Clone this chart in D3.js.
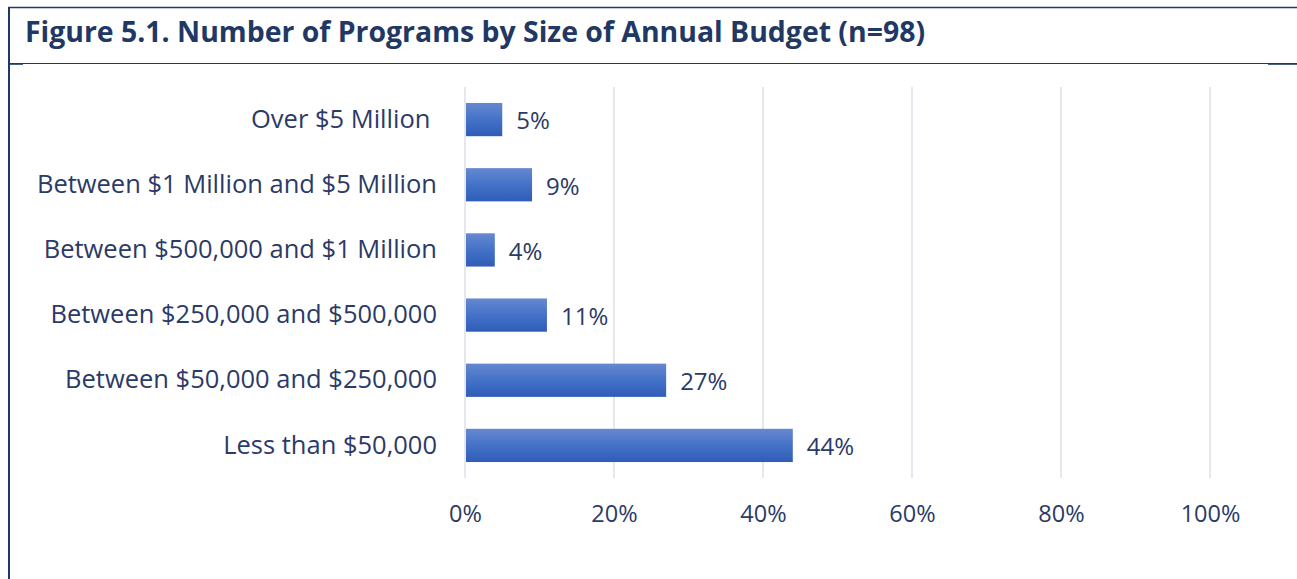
<!DOCTYPE html>
<html>
<head>
<meta charset="utf-8">
<script src="https://cdn.jsdelivr.net/npm/d3@7"></script>
<style>
    body { margin: 0; background: #fff; }
    svg { display: block; }
    text { white-space: pre; }
</style>
</head>
<body>
<svg id="chart" width="1297" height="579"></svg>
<script>
// categories top to bottom, values in percent
var categories = [
    "Over $5 Million ",
    "Between $1 Million and $5 Million",
    "Between $500,000 and $1 Million",
    "Between $250,000 and $500,000",
    "Between $50,000 and $250,000",
    "Less than $50,000"
]
var values = [5, 9, 4, 11, 27, 44]
var tickValues = [0, 20, 40, 60, 80, 100]
var title = "Figure 5.1. Number of Programs by Size of Annual Budget (n=98)"

var navy = "#1f3864"
var textColor = "#2b3a67"
var font = "'Open Sans', 'Noto Sans', sans-serif"

var svg = d3.select("#chart")

// frame
svg.append("line").attr("x1", 8).attr("x2", 1297).attr("y1", 7.5).attr("y2", 7.5)
   .attr("stroke", navy).attr("stroke-width", 1.6)
svg.append("line").attr("x1", 9).attr("x2", 9).attr("y1", 7).attr("y2", 579)
   .attr("stroke", navy).attr("stroke-width", 2)
svg.append("line").attr("x1", 8).attr("x2", 1297).attr("y1", 63.5).attr("y2", 63.5)
   .attr("stroke", navy).attr("stroke-width", 1)
svg.append("line").attr("x1", 8).attr("x2", 23).attr("y1", 64).attr("y2", 64)
   .attr("stroke", navy).attr("stroke-width", 1.6)
svg.append("line").attr("x1", 1268).attr("x2", 1297).attr("y1", 64).attr("y2", 64)
   .attr("stroke", navy).attr("stroke-width", 1.6)

svg.append("text")
   .attr("x", 25)
   .attr("y", 42)
   .attr("font-family", font)
   .attr("font-weight", "bold")
   .attr("font-size", 28)
   .attr("textLength", 900)
   .attr("lengthAdjust", "spacingAndGlyphs")
   .attr("fill", navy)
   .text(title)

// gradient for bars
var grad = svg.append("defs").append("linearGradient")
    .attr("id", "barGrad").attr("x1", 0).attr("x2", 0).attr("y1", 0).attr("y2", 1)
grad.append("stop").attr("offset", "0%").attr("stop-color", "#6688cf")
grad.append("stop").attr("offset", "50%").attr("stop-color", "#4472c8")
grad.append("stop").attr("offset", "100%").attr("stop-color", "#2f5cb6")

var x = d3.scaleLinear().domain([0, 100]).range([465, 1210])
var y = d3.scaleBand().domain(categories).range([87, 478]).paddingInner(0.49).paddingOuter(0.245)

// gridlines
svg.append("g").selectAll("line")
   .data(tickValues)
   .join("line")
   .attr("x1", function (d) { return x(d) })
   .attr("x2", function (d) { return x(d) })
   .attr("y1", 87)
   .attr("y2", 478)
   .attr("stroke", "#dde1ea")
   .attr("stroke-width", 1.5)

// x axis labels
var xAxis = d3.axisBottom(x).tickValues(tickValues).tickSize(0).tickPadding(0)
              .tickFormat(function (d) { return d + "%" })
var gx = svg.append("g").attr("transform", "translate(0,514)").call(xAxis)
gx.select(".domain").remove()
gx.selectAll("text")
  .attr("font-family", font)
  .attr("font-size", 23.5)
  .attr("fill", textColor)
  .attr("dy", "0.35em")

// y axis labels
var yAxis = d3.axisLeft(y).tickSize(0).tickPadding(28)
var gy = svg.append("g").attr("transform", "translate(465,0)").call(yAxis)
gy.select(".domain").remove()
gy.selectAll("text")
  .attr("font-family", font)
  .attr("font-size", 25.5)
  .attr("fill", textColor)

// bars
svg.append("g").selectAll("rect")
   .data(values)
   .join("rect")
   .attr("x", x(0) + 1)
   .attr("y", function (d, i) { return y(categories[i]) })
   .attr("width", function (d) { return x(d) - x(0) - 1 })
   .attr("height", y.bandwidth())
   .attr("fill", "url(#barGrad)")

// value labels
svg.append("g").selectAll("text")
   .data(values)
   .join("text")
   .attr("x", function (d) { return x(d) + 14 })
   .attr("y", function (d, i) { return y(categories[i]) + y.bandwidth() / 2 + 1.5 })
   .attr("dy", "0.35em")
   .attr("font-family", font)
   .attr("font-size", 24)
   .attr("fill", textColor)
   .text(function (d) { return d + "%" })
</script>
</body>
</html>
